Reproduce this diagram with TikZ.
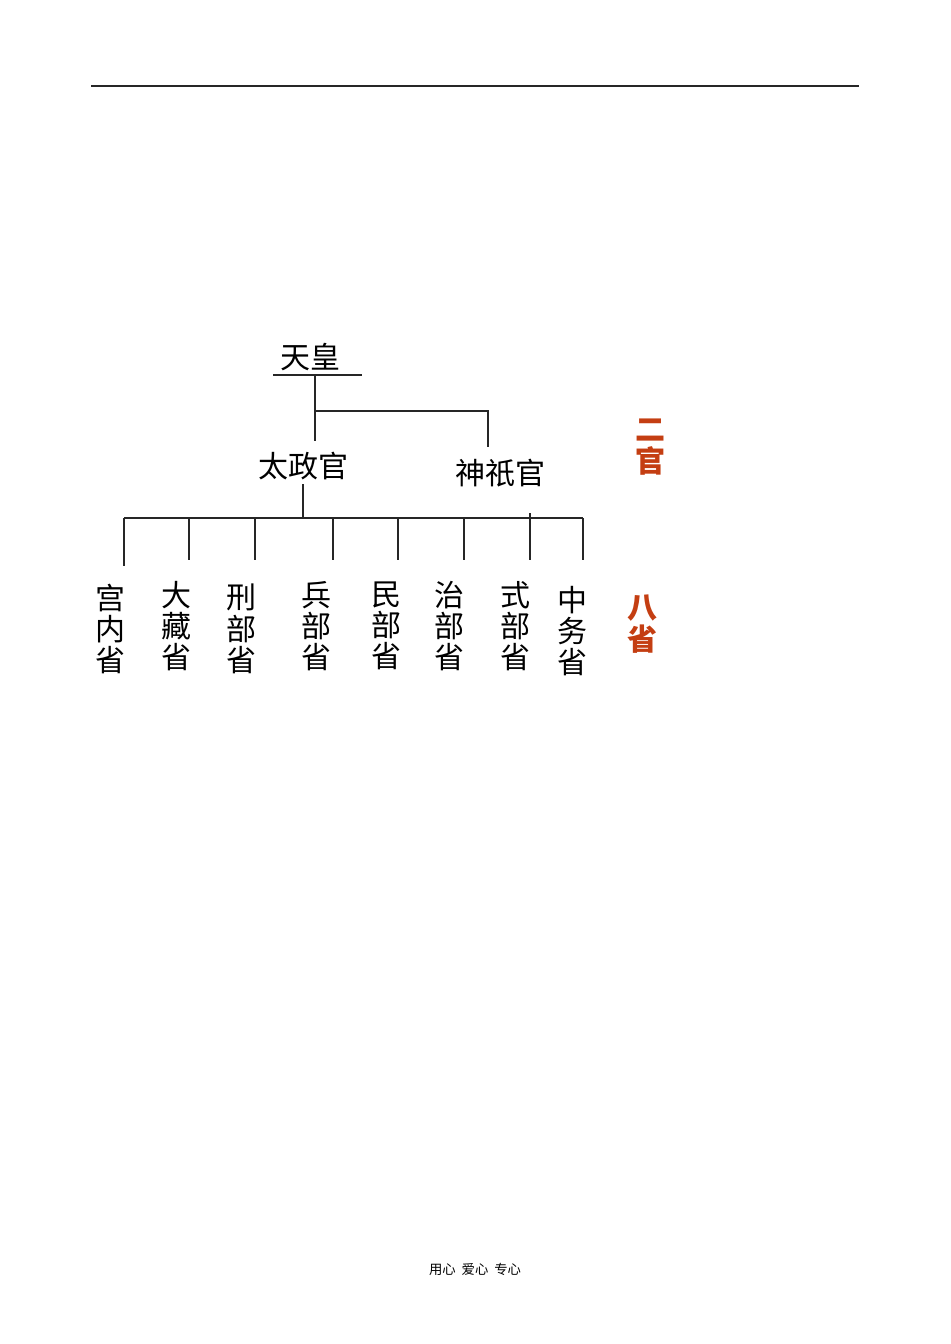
\documentclass[tikz,border=0pt]{standalone}
\usepackage{fontspec}
\setmainfont{Noto Sans CJK SC}
\definecolor{ruby}{RGB}{196,62,18}

\begin{document}
\begin{tikzpicture}[x=0.75pt,y=-0.75pt,line width=0.9pt,draw=black!85]
    \tikzstyle{title}=[inner sep=0pt,font=\fontsize{22.5}{23.5}\selectfont]
    \tikzstyle{dept}=[title,align=center]
    \tikzstyle{tag}=[dept,text=ruby,font=\fontsize{22.5}{24}\selectfont\bfseries]
    \tikzstyle{foot}=[inner sep=0pt,font=\fontsize{10}{12}\selectfont]

    \useasboundingbox (0,0) rectangle (950,1344);

    % Page rule
    \draw (91,86) -- (859,86);

    % The emperor and the two councils
    \node[title] (tenno) at (310,357) {天皇};
    \coordinate (tenno-l) at (273,375);
    \coordinate (tenno-r) at (362,375);
    \coordinate (tenno-s) at (315,375);
    \coordinate (fork) at (315,411);
    \node[title] (dajo) at (303,466) {太政官};
    \node[title] (jingi) at (500,473) {神祇官};
    \coordinate (dajo-top) at (315,441);
    \coordinate (jingi-top) at (488,447);
    \coordinate (jingi-fork) at (488,411);

    \draw (tenno-l) -- (tenno-r);
    \draw (tenno-s) -- (fork) -- (dajo-top);
    \draw (fork) -- (jingi-fork) -- (jingi-top);

    % Bus under the Daijokan
    \coordinate (dajo-bot) at (303,484);
    \coordinate (bus) at (303,518);
    \coordinate (bus-l) at (124,518);
    \coordinate (bus-r) at (583,518);
    \draw (dajo-bot) -- (bus);
    \draw (bus-l) -- (bus-r);

    % The eight ministries
    \foreach \name/\lx/\tx/\ty/\top/\bot/\txt in {
        kunai/124/110/629/518/566/{宫\\内\\省},
        okura/189/176/626/518/560/{大\\藏\\省},
        gyobu/255/241/629/518/560/{刑\\部\\省},
        hyobu/333/316/626/518/560/{兵\\部\\省},
        minbu/398/386/626/518/560/{民\\部\\省},
        jibu/464/449/626/518/560/{治\\部\\省},
        shikibu/530/515/626/513/560/{式\\部\\省},
        nakatsu/583/572/631/518/560/{中\\务\\省}}
    {
        \node[dept] (M-\name) at (\tx,\ty) {\txt};
        \coordinate (M-\name-a) at (\lx,\top);
        \coordinate (M-\name-b) at (\lx,\bot);
        \draw (M-\name-a) -- (M-\name-b);
    }

    % Side notes
    \node[tag] (nikan) at (650,447) {二\\官};
    \node[tag] (hassho) at (642,624) {八\\省};

    \node[foot] (motto) at (475,1269) {用心\ \ 爱心\ \ 专心};
\end{tikzpicture}
\end{document}
